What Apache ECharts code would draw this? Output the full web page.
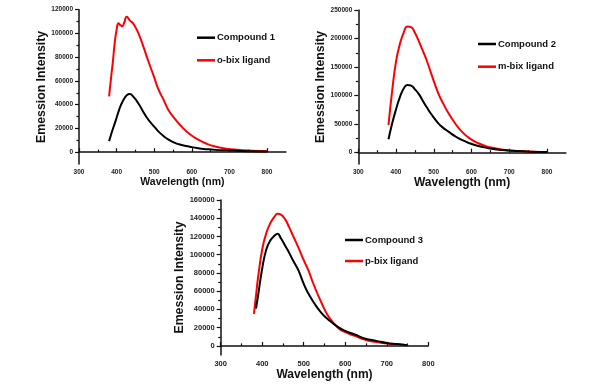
<!DOCTYPE html>
<html>
<head>
<meta charset="utf-8">
<script src="https://cdn.jsdelivr.net/npm/echarts@6/dist/echarts.min.js"></script>
<style>
  html, body { margin: 0; padding: 0; background: #fff; }
  #chart { width: 613px; height: 390px; }
</style>
</head>
<body>
<div id="chart"></div>
<script>
// panel 1: Compound 1 / o-bix ligand
const wl1 = [380, 385, 390, 395, 400, 405, 410, 415, 420, 427, 435, 445, 458, 470, 484, 500, 511, 525, 537, 555, 573, 595, 617, 640, 662, 688, 720, 760, 800]
const compound1 = [9300, 14500, 19500, 24000, 29000, 34000, 38500, 42000, 45000, 48000, 49000, 46500, 41000, 34500, 27500, 21500, 17500, 13500, 10800, 7800, 6000, 4500, 3300, 2500, 1900, 1500, 1100, 700, 500]
const obix = [47000, 62000, 76000, 92000, 103000, 108500, 107000, 106000, 109000, 114000, 111000, 108000, 100000, 90000, 77000, 63000, 53000, 44000, 36000, 28000, 21500, 15000, 10500, 7000, 4700, 3100, 2000, 1200, 700]

// panel 2: Compound 2 / m-bix ligand
const wl2 = [380, 390, 400, 410, 420, 430, 440, 450, 460, 470, 481, 495, 512, 525, 539, 556, 574, 595, 618, 640, 662, 689, 720, 760, 800]
const compound2 = [23500, 52000, 76000, 97000, 112000, 118700, 117500, 111000, 103000, 92000, 80000, 66000, 51500, 43500, 36800, 29000, 22300, 16500, 11700, 8500, 6000, 4200, 2800, 1700, 1100]
const mbix = [48500, 110000, 160000, 190000, 210000, 221000, 220000, 210000, 196000, 180000, 162000, 135000, 104000, 86000, 69000, 52000, 37000, 25000, 16500, 11000, 7700, 4700, 3000, 1800, 1200]

// panel 3: Compound 3 / p-bix ligand
const wl3 = [380, 385, 390, 400, 410, 420, 430, 437, 445, 455, 465, 475, 487, 500, 511, 525, 543, 560, 583, 600, 623, 648, 675, 700, 725, 750]
const compound3 = [null, 41000, 55000, 85000, 106000, 116000, 121000, 123000, 118000, 110000, 102000, 93000, 83000, 68000, 57500, 47000, 36000, 28500, 20500, 16500, 12500, 8000, 5500, 3200, 2000, 800]
const pbix = [35000, 55000, 75000, 106000, 124000, 135000, 142000, 145000, 144000, 139000, 130000, 120000, 108000, 94000, 83000, 66000, 47000, 32000, 19500, 15000, 11000, 6600, 4200, 2500, 1500, 800]

// tick labels
const xTicks = [300, 400, 500, 600, 700, 800]
const xMinor = [350, 450, 550, 650, 750]
const y1Ticks = [0, 20000, 40000, 60000, 80000, 100000, 120000]
const y1Minor = [10000, 30000, 50000, 70000, 90000, 110000]
const y2Ticks = [0, 50000, 100000, 150000, 200000, 250000]
const y2Minor = [25000, 75000, 125000, 175000, 225000]
const y3Ticks = [0, 20000, 40000, 60000, 80000, 100000, 120000, 140000, 160000]
const y3Minor = [10000, 30000, 50000, 70000, 90000, 110000, 130000, 150000]

const FONT = 'Liberation Sans, Arial, sans-serif'

function pairs(xs, ys) {
  return xs.map((x, i) => [x, ys[i] == null ? '-' : ys[i]])
}

function xAxes(grid, max, labelSize, nameSize, nameGap) {
  return [
    {
      type: 'value', gridIndex: grid, min: 300, max: max, position: 'bottom',
      name: 'Wavelength (nm)', nameLocation: 'middle', nameGap: nameGap,
      nameTextStyle: { fontFamily: FONT, fontWeight: 'bold', fontSize: nameSize, color: '#111' },
      axisLine: { lineStyle: { color: '#111', width: 1.5 } },
      axisTick: { inside: true, length: 4, customValues: xTicks, lineStyle: { color: '#111', width: 1.2 } },
      axisLabel: { customValues: xTicks, margin: 5, formatter: (v) => String(v), fontFamily: FONT, fontWeight: 'bold', fontSize: labelSize, color: '#222' },
      splitLine: { show: false }
    },
    {
      type: 'value', gridIndex: grid, min: 300, max: max, position: 'bottom',
      axisLine: { show: false },
      axisTick: { inside: true, length: 2.5, customValues: xMinor, lineStyle: { color: '#111', width: 1.2 } },
      axisLabel: { show: false },
      splitLine: { show: false }
    }
  ]
}

function yAxes(grid, min, max, ticks, minor, labelSize, nameGap) {
  return [
    {
      type: 'value', gridIndex: grid, min: min, max: max, position: 'left',
      name: 'Emession Intensity', nameLocation: 'middle', nameGap: nameGap,
      nameTextStyle: { fontFamily: FONT, fontWeight: 'bold', fontSize: 12.3, color: '#111' },
      axisLine: { show: true, lineStyle: { color: '#111', width: 1.5 } },
      axisTick: { show: true, length: 4, customValues: ticks, lineStyle: { color: '#111', width: 1.2 } },
      axisLabel: { customValues: ticks, margin: 6, formatter: (v) => String(v), fontFamily: FONT, fontWeight: 'bold', fontSize: labelSize, color: '#222' },
      splitLine: { show: false }
    },
    {
      type: 'value', gridIndex: grid, min: min, max: max, position: 'left',
      axisLine: { show: false },
      axisTick: { show: true, length: 2.5, customValues: minor, lineStyle: { color: '#111', width: 1.2 } },
      axisLabel: { show: false },
      splitLine: { show: false }
    }
  ]
}

function legend(names, left, top, gap) {
  return {
    data: names, orient: 'vertical', left: left, top: top, itemGap: gap, padding: 0,
    icon: 'rect', itemWidth: 18, itemHeight: 2.5,
    textStyle: { fontFamily: FONT, fontWeight: 'bold', fontSize: 9.5, lineHeight: 12, color: '#111', padding: [0, 0, 0, -3] }
  }
}

function line(name, data, xi, yi, color) {
  return {
    name: name, type: 'line', data: data, xAxisIndex: xi, yAxisIndex: yi,
    showSymbol: false, smooth: 0.5, lineStyle: { color: color, width: 2 }, itemStyle: { color: color }
  }
}

const mychart = echarts.init(document.getElementById('chart'))
mychart.setOption({
  backgroundColor: '#fff',
  animation: false,
  grid: [
    { left: 79, top: 9.7, width: 206.8, height: 154.3, outerBoundsMode: 'none' },
    { left: 358.3, top: 10, width: 207.6, height: 154.1, outerBoundsMode: 'none' },
    { left: 220.7, top: 200, width: 207.6, height: 155, outerBoundsMode: 'none' }
  ],
  xAxis: [
    ...xAxes(0, 850, 6.5, 10.5, 13),
    ...xAxes(1, 850, 6.5, 12, 11),
    ...xAxes(2, 800, 7.5, 12, 12)
  ],
  yAxis: [
    ...yAxes(0, -10000, 120000, y1Ticks, y1Minor, 6.5, 28),
    ...yAxes(1, -20000, 250000, y2Ticks, y2Minor, 6.5, 25),
    ...yAxes(2, -10000, 160000, y3Ticks, y3Minor, 7.5, 25)
  ],
  legend: [
    legend(['Compound 1', 'o-bix ligand'], 197, 31.7, 10.6),
    legend(['Compound 2', 'm-bix ligand'], 478, 38, 10.7),
    legend(['Compound 3', 'p-bix ligand'], 345, 234, 9)
  ],
  series: [
    line('o-bix ligand', pairs(wl1, obix), 0, 0, '#ff0000'),
    line('Compound 1', pairs(wl1, compound1), 0, 0, '#000000'),
    line('m-bix ligand', pairs(wl2, mbix), 2, 2, '#ff0000'),
    line('Compound 2', pairs(wl2, compound2), 2, 2, '#000000'),
    line('p-bix ligand', pairs(wl3, pbix), 4, 4, '#ff0000'),
    line('Compound 3', pairs(wl3, compound3), 4, 4, '#000000')
  ]
})
</script>
</body>
</html>
